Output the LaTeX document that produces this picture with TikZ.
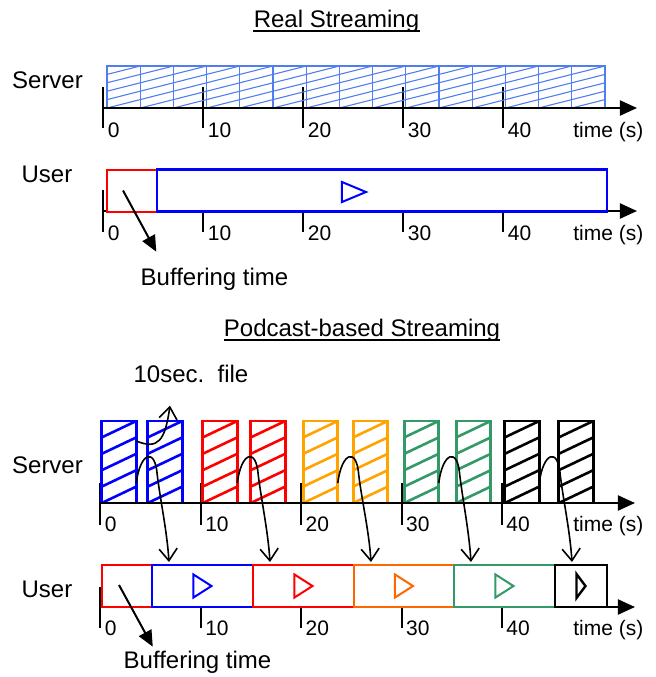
\documentclass[tikz,border=0pt]{standalone}
\usepackage{fontspec}
\setmainfont{Liberation Sans}
\usepackage{tikz}
\usetikzlibrary{arrows.meta,positioning,calc}

\definecolor{lightblue}{RGB}{80,125,240}
\definecolor{podorange}{RGB}{255,163,0}
\definecolor{playorange}{RGB}{255,102,0}
\definecolor{podgreen}{RGB}{51,153,102}

\tikzset{
  hatch/.style={path picture={
    \foreach \k in {0,...,4}
      \draw[#1] ($(path picture bounding box.south west)!{\k/5}!(path picture bounding box.north west)$)
        -- ($(path picture bounding box.south east)!{(\k+1)/5}!(path picture bounding box.north east)$);
  }},
}

\begin{document}
\begin{tikzpicture}[x=0.5pt, y=-0.5pt,
    biglabel/.style={font=\fontsize{12}{14}\selectfont, inner sep=0pt, anchor=base},
    ticklabel/.style={font=\fontsize{10.5}{12}\selectfont, inner sep=0pt, anchor=base west},
    timeaxis/.style={line width=1pt, -{Triangle[length=8.5pt,width=7.5pt]}},
    tickline/.style={line width=1pt},
    sq/.style={draw=lightblue, line width=0.6pt, minimum width=16.6pt, minimum height=21pt,
        inner sep=0pt, outer sep=0pt, hatch={lightblue, line width=0.55pt}},
    podfile/.style={draw=#1, line width=1.4pt, minimum width=17.25pt, minimum height=41pt,
        inner sep=0pt, outer sep=0pt, hatch={#1, line width=1.3pt}},
    seg/.style={draw=#1, fill=white, line width=1.4pt, minimum height=21pt, inner sep=0pt, outer sep=0pt},
    play/.style={line width=1pt, line join=miter},
    buf/.style={line width=1pt, -{Triangle[length=8pt,width=7pt]}},
    link/.style={line width=0.8pt, -{Straight Barb[length=6pt,width=9pt]}},
]
    \useasboundingbox (0,0) rectangle (656,677);

    % --- real streaming ---
    \node[biglabel] (title1) at (336.5,27) {Real Streaming};
    \draw[line width=1pt] ($(title1.base west)+(0,3.5)$) -- ($(title1.base east)+(0,3.5)$);

    \node[biglabel] (srv1) at (47.5,88) {Server};
    \node[biglabel] (usr1) at (47,182) {User};

    \foreach \n [count=\i from 0] in {0,10,20,30,40} {
        \draw[tickline] (103.5+100*\i,87) -- (103.5+100*\i,128);
        \node[ticklabel] (a\i) at (107.5+100*\i,137) {\n};
    }
    \foreach \i in {0,...,14}
        \node[sq] (sq\i) at (123.6+33.2*\i,87) {};
    \draw[timeaxis] (103.5,108) -- (637,108);
    \node[ticklabel] (unit1) at (573,137) {time (s)};

    \foreach \n [count=\i from 0] in {0,10,20,30,40} {
        \draw[tickline] (103.5+100*\i,190) -- (103.5+100*\i,232);
        \node[ticklabel] (b\i) at (107.5+100*\i,240) {\n};
    }
    \draw[timeaxis] (103.5,211) -- (637,211);
    \node[seg=red, line width=1pt, minimum width=25pt] (ubuf) at (132,190.5) {};
    \node[seg=blue, minimum width=225pt] (uplay) at (382,190.5) {};
    \draw[play, blue] (342,182) -- (342,202) -- (366,192) -- cycle;
    \node[ticklabel] (unit2) at (573,240) {time (s)};

    \node[biglabel] (buft1) at (214.5,285) {Buffering time};
    \draw[buf] ($(ubuf.center)+(-9,0)$) -- ($(buft1.north west)+(16,-15.5)$);

    % --- podcast-based streaming ---
    \node[biglabel] (title2) at (362,336) {Podcast-based Streaming};
    \draw[line width=1pt] ($(title2.base west)+(0,3.5)$) -- ($(title2.base east)+(0,3.5)$);

    \node[biglabel] (fil) at (191,382) {10sec.\ \ file};
    \node[biglabel] (srv2) at (47.5,473) {Server};
    \node[biglabel] (usr2) at (47,597) {User};

    \foreach \n [count=\i from 0] in {0,10,20,30,40} {
        \draw[tickline] (100.5+100.4*\i,483) -- (100.5+100.4*\i,525);
        \node[ticklabel] (c\i) at (104.5+100.4*\i,531) {\n};
    }
    \node[podfile=blue] (fb1) at (119,462) {};
    \node[podfile=blue] (fb2) at (165,462) {};
    \node[podfile=red] (fr1) at (220,462) {};
    \node[podfile=red] (fr2) at (268,462) {};
    \node[podfile=podorange] (fo1) at (320.5,462) {};
    \node[podfile=podorange] (fo2) at (370.5,462) {};
    \node[podfile=podgreen] (fg1) at (421.5,462) {};
    \node[podfile=podgreen] (fg2) at (473.5,462) {};
    \node[podfile=black] (fk1) at (522,462) {};
    \node[podfile=black] (fk2) at (576,462) {};
    \draw[timeaxis] (100.5,503) -- (635,503);
    \node[ticklabel] (unit3) at (573,531) {time (s)};

    \foreach \n [count=\i from 0] in {0,10,20,30,40} {
        \draw[tickline] (100.5+100.4*\i,587) -- (100.5+100.4*\i,628);
        \node[ticklabel] (d\i) at (104.5+100.4*\i,635) {\n};
    }
    \draw[timeaxis] (100.5,607) -- (635,607);
    \node[seg=red, line width=1pt, minimum width=25pt] (pbuf) at (127,586) {};
    \node[seg=blue, minimum width=50.5pt] (pb) at (202.5,586) {};
    \node[seg=red, minimum width=50.5pt] (pr) at (303.5,586) {};
    \node[seg=playorange, minimum width=50pt] (po) at (404,586) {};
    \node[seg=podgreen, minimum width=50.5pt] (pg) at (504.5,586) {};
    \node[seg=black, minimum width=26pt] (pk) at (581,586) {};
    \foreach \c/\col in {b/blue, r/red, o/playorange, g/podgreen}
        \draw[play, \col] ($(p\c.center)+(-9,-11.5)$) -- ++(0,23) -- ++(18,-11.5) -- cycle;
    \draw[play, line width=1.2pt] ($(pk.center)+(-4.5,-12)$) -- ++(0,24) -- ++(9,-12) -- cycle;
    \node[ticklabel] (unit4) at (573,635) {time (s)};

    \node[biglabel] (buft2) at (197.5,668) {Buffering time};
    \draw[buf] ($(pbuf.center)+(-8,-1)$) -- ($(buft2.north west)+(29.5,-3.5)$);

    % file -> playback
    \foreach \c in {b,r,o,g,k} {
        \coordinate (s\c) at ($(f\c1.south east)+(0,-20)$);
        \coordinate (t\c) at ($(p\c.north west)+(17,-3)$);
        \draw[link] (s\c) .. controls ($(s\c)+(4,-31)$) and ($(s\c)+(19,-36)$) .. ($(s\c)+(21,-8)$)
            .. controls ($(s\c)+(24,17)$) and ($(t\c)+(-2,-31)$) .. (t\c);
    }
    \draw[link] ($(fb1.north east)+(0,20)$) .. controls ($(fb1.north east)+(22,29)$)
        and ($(fil.south)+(-26,58)$) .. ($(fil.south)+(-21,23)$);
\end{tikzpicture}
\end{document}
